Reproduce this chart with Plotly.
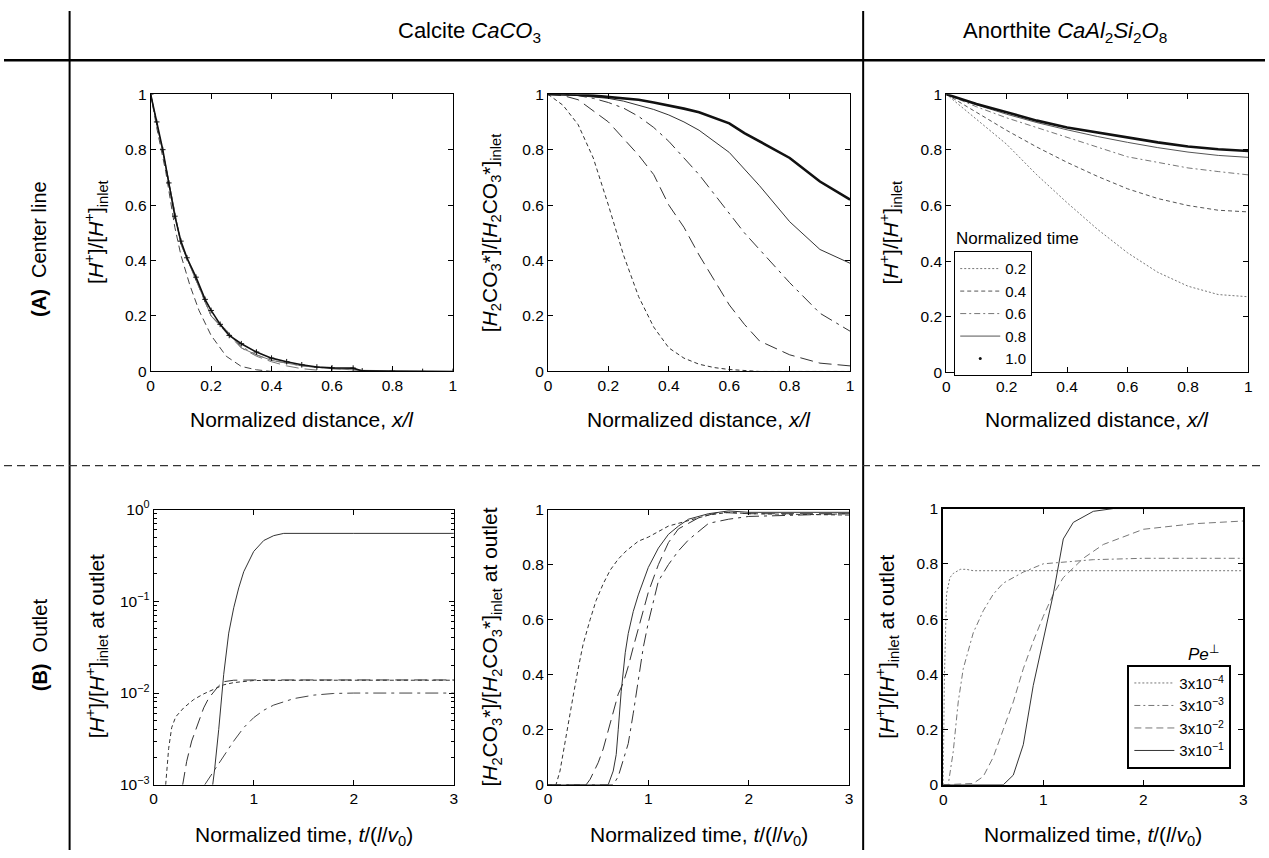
import plotly.graph_objects as go

W, H = 1269, 858

# ---------------- DATA ----------------
# (A) Center line, Calcite H+ vs normalized distance
a1_t02_x = [0, 0.02, 0.05, 0.08, 0.1, 0.13, 0.16, 0.2, 0.25, 0.3, 0.35, 0.4, 0.55]
a1_t02_y = [1, 0.88, 0.72, 0.52, 0.42, 0.31, 0.22, 0.13, 0.055, 0.018, 0.006, 0.0, 0.0]
a1_t04_x = [0, 0.05, 0.1, 0.15, 0.2, 0.25, 0.3, 0.35, 0.4, 0.45, 0.5, 0.55]
a1_t04_y = [1, 0.74, 0.46, 0.33, 0.2, 0.14, 0.085, 0.055, 0.035, 0.02, 0.01, 0.005]
a1_t06_x = [0, 0.05, 0.1, 0.15, 0.2, 0.25, 0.3, 0.35, 0.4, 0.5, 0.6, 0.7]
a1_t06_y = [1, 0.74, 0.46, 0.33, 0.2, 0.145, 0.09, 0.06, 0.04, 0.02, 0.01, 0.004]
a1_t08_x = [0, 0.05, 0.1, 0.15, 0.2, 0.25, 0.3, 0.35, 0.4, 0.5, 0.6, 0.7, 0.8, 0.9, 1.0]
a1_t08_y = [1, 0.74, 0.46, 0.33, 0.2, 0.15, 0.085, 0.06, 0.04, 0.02, 0.01, 0.004, 0.002, 0.001, 0]
a1_t10_x = [0, 0.02, 0.04, 0.06, 0.08, 0.1, 0.12, 0.15, 0.18, 0.2, 0.23, 0.26, 0.3, 0.35, 0.4,
            0.45, 0.5, 0.55, 0.6, 0.67, 0.7, 0.8, 0.9, 1.0]
a1_t10_y = [1, 0.9, 0.8, 0.68, 0.56, 0.47, 0.41, 0.34, 0.26, 0.22, 0.17, 0.13, 0.10, 0.07, 0.048,
            0.035, 0.024, 0.016, 0.013, 0.012, 0.002, 0.001, 0.0, 0.0]

# (A) Center line, Calcite H2CO3* vs normalized distance
a2_x = [0, 0.05, 0.1, 0.15, 0.2, 0.25, 0.3, 0.35, 0.4, 0.45, 0.5, 0.55, 0.6, 0.65, 0.7, 0.8, 0.9, 1.0]
a2_t02 = [1, 0.96, 0.89, 0.77, 0.6, 0.42, 0.27, 0.16, 0.085, 0.048, 0.026, 0.014, 0.007, 0.003, 0.0, 0.0, 0.0, 0.0]
a2_t04 = [1, 0.995, 0.98, 0.94, 0.9, 0.84, 0.78, 0.71, 0.6, 0.52, 0.42, 0.33, 0.24, 0.17, 0.11, 0.06, 0.03, 0.02]
a2_t06 = [1, 1.0, 0.995, 0.985, 0.97, 0.95, 0.92, 0.88, 0.83, 0.77, 0.71, 0.64, 0.57, 0.5, 0.44, 0.32, 0.21, 0.145]
a2_t08 = [1, 1.0, 0.995, 0.99, 0.985, 0.975, 0.96, 0.945, 0.925, 0.9, 0.87, 0.83, 0.79, 0.73, 0.67, 0.54, 0.44, 0.39]
a2_t10 = [1, 1.0, 0.998, 0.995, 0.99, 0.985, 0.98, 0.97, 0.96, 0.948, 0.935, 0.915, 0.895, 0.86, 0.83, 0.77, 0.685, 0.62]

# (A) Center line, Anorthite H+ vs normalized distance
a3_x = [0, 0.1, 0.2, 0.3, 0.4, 0.5, 0.6, 0.7, 0.8, 0.9, 1.0]
a3_t02 = [1, 0.91, 0.82, 0.71, 0.61, 0.515, 0.43, 0.36, 0.31, 0.28, 0.272]
a3_t04 = [1, 0.935, 0.87, 0.81, 0.755, 0.705, 0.66, 0.625, 0.6, 0.583, 0.577]
a3_t06 = [1, 0.955, 0.915, 0.88, 0.845, 0.81, 0.775, 0.755, 0.735, 0.722, 0.71]
a3_t08 = [1, 0.962, 0.928, 0.898, 0.872, 0.848, 0.827, 0.808, 0.792, 0.78, 0.773]
a3_t10 = [1, 0.965, 0.935, 0.905, 0.88, 0.862, 0.843, 0.827, 0.812, 0.802, 0.796]
a3_labels = ["0.2", "0.4", "0.6", "0.8", "1.0"]

# (B) Outlet, Calcite H+ (log) vs normalized time
b1_c1_x = [0.12, 0.15, 0.18, 0.22, 0.3, 0.4, 0.5, 0.6, 0.7, 0.8, 1.0, 1.5, 2, 3]
b1_c1_y = [0.001, 0.0025, 0.0042, 0.0055, 0.0069, 0.0085, 0.0098, 0.011, 0.0123, 0.013, 0.0137, 0.0138, 0.0138, 0.0138]
b1_c2_x = [0.29, 0.33, 0.38, 0.45, 0.5, 0.55, 0.6, 0.65, 0.7, 0.8, 1.0, 2, 3]
b1_c2_y = [0.001, 0.0018, 0.003, 0.005, 0.0069, 0.0088, 0.0104, 0.012, 0.0133, 0.0138, 0.0139, 0.0139, 0.0139]
b1_c3_x = [0.59, 0.61, 0.65, 0.68, 0.7, 0.75, 0.8, 0.85, 0.9, 1.0, 1.1, 1.2, 1.3, 2, 3]
b1_c3_y = [0.001, 0.0015, 0.004, 0.0105, 0.016, 0.045, 0.085, 0.14, 0.21, 0.35, 0.46, 0.52, 0.55, 0.55, 0.55]
b1_c4_x = [0.51, 0.6, 0.7, 0.8, 0.9, 1.0, 1.1, 1.2, 1.4, 1.6, 1.8, 2, 3]
b1_c4_y = [0.001, 0.0014, 0.002, 0.003, 0.0042, 0.0054, 0.0065, 0.0074, 0.0087, 0.0095, 0.0099, 0.01, 0.01]

# (B) Outlet, Calcite H2CO3* vs normalized time
b2_c1_x = [0, 0.08, 0.12, 0.18, 0.25, 0.3, 0.35, 0.42, 0.48, 0.55, 0.62, 0.7, 0.78, 0.9, 1.0, 1.2, 1.4, 1.6, 1.8, 2, 3]
b2_c1_y = [0, 0, 0.05, 0.18, 0.32, 0.42, 0.51, 0.6, 0.67, 0.73, 0.78, 0.82, 0.85, 0.885, 0.9, 0.94, 0.96, 0.98, 0.99, 0.985, 0.98]
b2_c2_x = [0, 0.38, 0.42, 0.5, 0.55, 0.6, 0.65, 0.7, 0.75, 0.8, 0.85, 0.9, 0.95, 1.0, 1.1, 1.2, 1.3, 1.5, 1.7, 2, 3]
b2_c2_y = [0, 0, 0.02, 0.08, 0.13, 0.2, 0.27, 0.33, 0.37, 0.43, 0.5, 0.57, 0.63, 0.7, 0.8, 0.88, 0.93, 0.97, 0.99, 0.985, 0.985]
b2_c3_x = [0, 0.6, 0.65, 0.68, 0.7, 0.73, 0.77, 0.8, 0.85, 0.9, 1.0, 1.1, 1.2, 1.3, 1.4, 1.6, 1.8, 2, 3]
b2_c3_y = [0, 0, 0.05, 0.11, 0.2, 0.34, 0.48, 0.55, 0.63, 0.69, 0.79, 0.86, 0.91, 0.94, 0.965, 0.985, 0.995, 0.99, 0.99]
b2_c4_x = [0, 0.65, 0.7, 0.75, 0.8, 0.85, 0.9, 0.95, 1.0, 1.1, 1.2, 1.3, 1.4, 1.5, 1.6, 1.8, 2, 3]
b2_c4_y = [0, 0, 0.03, 0.09, 0.15, 0.26, 0.38, 0.5, 0.59, 0.74, 0.8, 0.85, 0.89, 0.92, 0.95, 0.965, 0.975, 0.985]

# (B) Outlet, Anorthite H+ vs normalized time
b3_p4_x = [0, 0.01, 0.033, 0.067, 0.1, 0.17, 0.23, 0.3, 1.0, 2.0, 3.0]
b3_p4_y = [0, 0.36, 0.69, 0.75, 0.765, 0.78, 0.78, 0.775, 0.775, 0.775, 0.775]
b3_p3_x = [0, 0.05, 0.1, 0.15, 0.2, 0.3, 0.4, 0.5, 0.6, 0.8, 1.0, 1.5, 2, 3]
b3_p3_y = [0, 0, 0.12, 0.3, 0.42, 0.55, 0.63, 0.69, 0.73, 0.77, 0.80, 0.815, 0.82, 0.82]
b3_p2_x = [0, 0.3, 0.4, 0.5, 0.6, 0.7, 0.8, 0.9, 1.0, 1.1, 1.2, 1.4, 1.6, 2.0, 2.5, 3.0]
b3_p2_y = [0, 0.005, 0.03, 0.1, 0.2, 0.3, 0.42, 0.52, 0.61, 0.69, 0.75, 0.82, 0.87, 0.925, 0.945, 0.955]
b3_p1_x = [0, 0.6, 0.7, 0.8, 0.9, 1.0, 1.1, 1.2, 1.3, 1.5, 1.7, 2.0, 3.0]
b3_p1_y = [0, 0, 0.035, 0.145, 0.36, 0.53, 0.69, 0.89, 0.95, 0.99, 1.0, 1.0, 1.0]
b3_labels = ["3x10<sup>\u22124</sup>", "3x10<sup>\u22123</sup>", "3x10<sup>\u22122</sup>", "3x10<sup>\u22121</sup>"]

log_tickvals = [0.001, 0.01, 0.1, 1]
log_ticktext = ["10<sup>\u22123</sup>", "10<sup>\u22122</sup>", "10<sup>\u22121</sup>", "10<sup>0</sup>"]

# ---------------- STYLES ----------------
FONT = "Liberation Sans, Arial, Helvetica, sans-serif"
DOT = "2px,2px"
SDASH = "4px,3px"
MDASH = "7px,4px"
LDASH = "13px,6px"
LDASHDOT = "13px,5px,3px,5px"
DASHDOT = "6px,3px,2px,3px"
DARK = "#222222"
GRAY = "#777777"

# the photographed page shows the figure slightly shrunk about its centre;
# pixel targets below are given in picture pixels and mapped back here.
KX, KY = 0.993, 0.977
CX, CY = W / 2, H / 2


def px2x(px):
    return (CX + (px - CX) / KX) / W


def px2y(py):
    return 1 - (CY + (py - CY) / KY) / H


fig = go.Figure()

# panel boxes in picture pixels: (left, right, top, bottom)
panels = {
    "1": (151, 453, 93, 370),
    "2": (548, 850, 93, 370),
    "3": (946, 1248, 93, 371),
    "4": (154, 454, 508, 783),
    "5": (548, 849, 508, 783),
    "6": (943, 1243, 507, 783),
}


def add(xs, ys, ax, dash="solid", color=DARK, width=1, name=None, legend=None, showlegend=False, mode="lines",
        marker=None):
    kw = dict(x=xs, y=ys, mode=mode, xaxis="x" + ("" if ax == "1" else ax), yaxis="y" + ("" if ax == "1" else ax),
              line=dict(color=color, width=width, dash=dash), showlegend=showlegend, hoverinfo="skip")
    if name is not None:
        kw["name"] = name
    if legend is not None:
        kw["legend"] = legend
    if marker is not None:
        kw["marker"] = marker
    fig.add_trace(go.Scatter(**kw))


# A1
add(a1_t02_x, a1_t02_y, "1", dash=MDASH, color="#444444")
add(a1_t04_x, a1_t04_y, "1", dash=LDASH, color=GRAY)
add(a1_t06_x, a1_t06_y, "1", dash=LDASHDOT, color=GRAY)
add(a1_t08_x, a1_t08_y, "1", color=GRAY)
add(a1_t10_x, a1_t10_y, "1", color="#111111", width=1.6, mode="lines+markers",
    marker=dict(symbol="cross-thin", size=4, line=dict(width=1, color="#111111")))

# A2
add(a2_x, a2_t02, "2", dash=SDASH, color="#333333")
add(a2_x, a2_t04, "2", dash=LDASH, color="#333333")
add(a2_x, a2_t06, "2", dash=LDASHDOT, color="#333333")
add(a2_x, a2_t08, "2", color="#333333")
add(a2_x, a2_t10, "2", color="#111111", width=2.6)

# A3 with legend
a3_series = [a3_t02, a3_t04, a3_t06, a3_t08]
a3_styles = [(DOT, GRAY), (SDASH, "#555555"), (DASHDOT, GRAY), ("solid", "#555555")]
for ys, (d, c), lab in zip(a3_series, a3_styles, a3_labels[:4]):
    add(a3_x, ys, "3", dash=d, color=c, name=lab, legend="legend", showlegend=True)
add(a3_x, a3_t10, "3", color="#111111", width=2.6)
# legend entry for 1.0 (marker sample only)
fig.add_trace(go.Scatter(x=[None], y=[None], mode="markers", name=a3_labels[4], xaxis="x3", yaxis="y3",
                         marker=dict(symbol="circle", size=3, color="#111111"), legend="legend"))

# B1
add(b1_c1_x, b1_c1_y, "4", dash=SDASH, color="#333333")
add(b1_c2_x, b1_c2_y, "4", dash=LDASH, color="#333333")
add(b1_c3_x, b1_c3_y, "4", color="#333333")
add(b1_c4_x, b1_c4_y, "4", dash=LDASHDOT, color="#444444")

# B2
add(b2_c1_x, b2_c1_y, "5", dash=SDASH, color="#333333")
add(b2_c2_x, b2_c2_y, "5", dash=LDASH, color="#333333")
add(b2_c3_x, b2_c3_y, "5", color="#333333")
add(b2_c4_x, b2_c4_y, "5", dash=LDASHDOT, color="#333333")

# B3 with legend
b3_series = [(b3_p4_x, b3_p4_y), (b3_p3_x, b3_p3_y), (b3_p2_x, b3_p2_y), (b3_p1_x, b3_p1_y)]
b3_styles = [(DOT, GRAY), (DASHDOT, GRAY), (MDASH, GRAY), ("solid", "#333333")]
for (xs, ys), (d, c), lab in zip(b3_series, b3_styles, b3_labels):
    add(xs, ys, "6", dash=d, color=c, name=lab, legend="legend2", showlegend=True)

# ---------------- AXES ----------------
tickfont = dict(family=FONT, size=15.5, color="black")
layout = dict(width=W, height=H, margin=dict(l=0, r=0, t=0, b=0, pad=0), autosize=False,
              paper_bgcolor="white", plot_bgcolor="white", font=dict(family=FONT, color="black"))

for key, (l, r, t, b) in panels.items():
    sfx = "" if key == "1" else key
    lw = 2 if key == "6" else 1
    xa = dict(domain=[px2x(l), px2x(r)], anchor="y" + sfx, showgrid=False, zeroline=False,
              showline=True, linecolor="black", linewidth=lw, mirror="ticks", ticks="inside",
              ticklen=5, tickcolor="black", tickfont=tickfont)
    ya = dict(domain=[px2y(b), px2y(t)], anchor="x" + sfx, showgrid=False, zeroline=False,
              showline=True, linecolor="black", linewidth=lw, mirror="ticks", ticks="inside",
              ticklen=5, tickcolor="black", tickfont=tickfont)
    if key in ("1", "2", "3"):
        xa.update(range=[0, 1], dtick=0.2, tick0=0)
        ya.update(range=[0, 1], dtick=0.2, tick0=0)
    else:
        xa.update(range=[0, 3], dtick=1, tick0=0)
        if key == "4":
            minor_vals = [m * 10 ** e for e in (-3, -2, -1) for m in range(2, 10)]
            ya.update(type="log", range=[-3, 0], tickvals=log_tickvals, ticktext=log_ticktext,
                      minor=dict(tickvals=minor_vals, ticks="inside", ticklen=3, tickcolor="black"))
        else:
            ya.update(range=[0, 1], dtick=0.2, tick0=0)
    layout["xaxis" + sfx] = xa
    layout["yaxis" + sfx] = ya

layout["legend"] = dict(x=px2x(954), y=px2y(250), xanchor="left", yanchor="top",
                        bgcolor="white", bordercolor="black", borderwidth=1,
                        font=dict(family=FONT, size=15, color="black"),
                        itemwidth=40, tracegroupgap=0)
layout["legend2"] = dict(x=px2x(1127), y=px2y(663), xanchor="left", yanchor="top",
                         bgcolor="white", bordercolor="black", borderwidth=2,
                         font=dict(family=FONT, size=15, color="black"),
                         itemwidth=40, tracegroupgap=0)
fig.update_layout(**layout)

# ---------------- ANNOTATIONS ----------------
TITLE = 21
ann = []


def text(x, y, s, size=TITLE, angle=0, xanchor="center"):
    ann.append(dict(x=px2x(x), y=px2y(y), xref="paper", yref="paper", text=s, showarrow=False,
                    textangle=angle, xanchor=xanchor, yanchor="middle",
                    font=dict(family=FONT, size=size, color="black")))


text(470, 31, "Calcite <i>CaCO</i><sub>3</sub>", size=22)
text(1065, 31, "Anorthite <i>CaAl</i><sub>2</sub><i>Si</i><sub>2</sub><i>O</i><sub>8</sub>", size=22)
text(40, 248, "<b>(A)</b>  Center line", size=20, angle=-90)
text(40, 643, "<b>(B)</b>  Outlet", size=20, angle=-90)

xd = "Normalized distance, <i>x/l</i>"
xt = "Normalized time, <i>t</i>/(<i>l</i>/<i>v</i><sub>0</sub>)"
for key in ("1", "2", "3"):
    l, r, t, b = panels[key]
    text((l + r) / 2, 418, xd)
for key in ("4", "5", "6"):
    l, r, t, b = panels[key]
    text((l + r) / 2, 834, xt)

yh = "[<i>H</i><sup>+</sup>]/[<i>H</i><sup>+</sup>]<sub>inlet</sub>"
yc = "[<i>H</i><sub>2</sub>CO<sub>3</sub>*]/[<i>H</i><sub>2</sub>CO<sub>3</sub>*]<sub>inlet</sub>"
text(96, 231, yh, angle=-90)
text(491, 231, yc, angle=-90)
text(890, 231, yh, angle=-90)
text(97, 645, yh + " at outlet", angle=-90)
text(491, 645, yc + " at outlet", angle=-90)
text(887, 645, yh + " at outlet", angle=-90)

text(1017, 237, "Normalized time", size=17)
text(1203, 651, "<i>Pe</i><sup>\u22a5</sup>", size=17)
fig.update_layout(annotations=ann)

# ---------------- FRAME LINES ----------------
top_v = min(1.0, px2y(8))
shapes = [
    dict(type="line", xref="paper", yref="paper", x0=px2x(70), x1=px2x(70), y0=top_v, y1=0,
         line=dict(color="black", width=2)),
    dict(type="line", xref="paper", yref="paper", x0=px2x(863), x1=px2x(863), y0=top_v, y1=0,
         line=dict(color="black", width=2)),
    dict(type="line", xref="paper", yref="paper", x0=0, x1=1, y0=px2y(59), y1=px2y(59),
         line=dict(color="black", width=2.5)),
    dict(type="line", xref="paper", yref="paper", x0=0, x1=1, y0=px2y(464), y1=px2y(464),
         line=dict(color="#333333", width=1.2, dash="8px,5px")),
]
fig.update_layout(shapes=shapes)

fig.write_html("out.html", config={"displayModeBar": False},
               post_script="document.body.style.margin='0px';document.body.style.overflow='hidden';")
